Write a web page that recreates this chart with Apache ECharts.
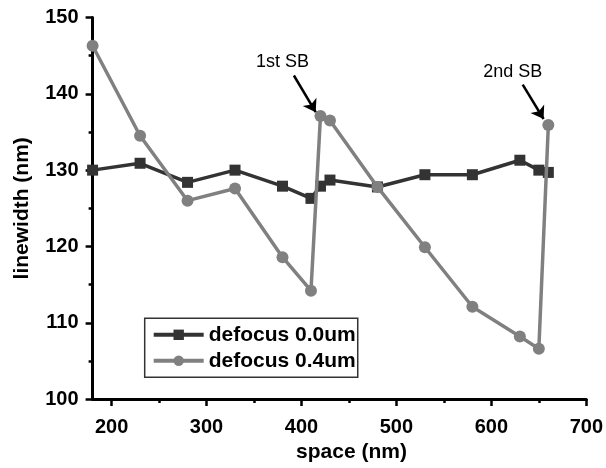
<!DOCTYPE html>
<html>
<head>
<meta charset="utf-8">
<script src="https://cdn.jsdelivr.net/npm/echarts@6/dist/echarts.min.js"></script>
<style>html,body{margin:0;padding:0;background:#fff;}#c{width:606px;height:468px;}</style>
</head>
<body>
<div id="c"></div>
<script>
const spaceNm = [180, 230, 280, 330, 380, 410, 420, 430, 480, 530, 580, 630, 650, 660];
const defocus00 = [130.0, 130.9, 128.4, 130.0, 127.9, 126.3, 127.9, 128.7, 127.8, 129.4, 129.4, 131.3, 130.0, 129.7];
const defocus04 = [146.3, 134.5, 126.0, 127.6, 118.6, 114.2, 137.1, 136.5, 127.8, 119.9, 112.1, 108.2, 106.6, 135.9];
const seriesNames = ['defocus 0.0um', 'defocus 0.4um'];
const xMajorTicks = [200, 300, 400, 500, 600, 700];
const xMinorTicks = [250, 350, 450, 550, 650];
const annotations = [
  { text: '1st SB', label: [380, 144.1], from: [392, 142.4], to: [415, 137.6] },
  { text: '2nd SB', label: [622.5, 142.9], from: [633, 141.2], to: [655, 136.7] }
];

const font = 'Liberation Sans, Arial, sans-serif';
const chart = echarts.init(document.getElementById('c'), null, { renderer: 'canvas' });

const pair = (xs, ys) => xs.map((x, i) => [x, ys[i]]);

chart.setOption({
  animation: false,
  backgroundColor: '#fff',
  grid: { left: 92.6, right: 17, top: 17.5, bottom: 67.3, containLabel: false },
  legend: {
    orient: 'vertical',
    left: 144.7,
    top: 318.3,
    data: seriesNames,
    itemWidth: 50,
    itemHeight: 13,
    itemGap: 5,
    padding: [6, 2, 6, 7],
    borderColor: '#333',
    borderWidth: 1.5,
    lineStyle: { width: 4 },
    textStyle: { fontFamily: font, fontSize: 21, fontWeight: 'bold', color: '#000' }
  },
  xAxis: [
    {
      type: 'value', min: 180, max: 700,
      name: 'space (nm)', nameLocation: 'middle', nameGap: 36,
      nameTextStyle: { fontFamily: font, fontSize: 21, fontWeight: 'bold', color: '#000', padding: [0, 0, 0, 24] },
      axisLine: { show: true, lineStyle: { color: '#000', width: 3 } },
      axisTick: { show: true, inside: false, length: 7, customValues: xMajorTicks, lineStyle: { color: '#000', width: 2.5 } },
      axisLabel: { show: true, margin: 18, customValues: xMajorTicks, fontFamily: font, fontSize: 20, fontWeight: 'bold', color: '#000' },
      splitLine: { show: false }
    },
    {
      type: 'value', min: 180, max: 700, position: 'bottom',
      axisLine: { show: false },
      axisTick: { show: true, inside: false, length: 4, customValues: xMinorTicks, lineStyle: { color: '#000', width: 2.5 } },
      axisLabel: { show: false },
      splitLine: { show: false }
    }
  ],
  yAxis: {
    type: 'value', min: 100, max: 150, interval: 10,
    name: 'linewidth (nm)', nameLocation: 'middle', nameGap: 60,
    nameTextStyle: { fontFamily: font, fontSize: 21, fontWeight: 'bold', color: '#000' },
    axisLine: { show: true, lineStyle: { color: '#000', width: 3 } },
    axisTick: { show: true, inside: false, length: 7, lineStyle: { color: '#000', width: 2.5 } },
    minorTick: { show: true, splitNumber: 2, length: 4, lineStyle: { color: '#000', width: 2.5 } },
    axisLabel: { margin: 14, fontFamily: font, fontSize: 20, fontWeight: 'bold', color: '#000' },
    splitLine: { show: false }
  },
  series: [
    {
      name: seriesNames[0], type: 'line', xAxisIndex: 0,
      data: pair(spaceNm, defocus00),
      symbol: 'rect', symbolSize: 11,
      lineStyle: { color: '#333', width: 3.5 },
      itemStyle: { color: '#333' },
      z: 2
    },
    {
      name: seriesNames[1], type: 'line', xAxisIndex: 0,
      data: pair(spaceNm, defocus04),
      symbol: 'circle', symbolSize: 12,
      lineStyle: { color: '#808080', width: 3.5 },
      itemStyle: { color: '#808080' },
      z: 3,
      markPoint: {
        silent: true,
        symbol: 'circle', symbolSize: 1,
        itemStyle: { color: 'rgba(0,0,0,0)' },
        label: { show: true, position: 'inside', color: '#000', fontFamily: font, fontSize: 18, formatter: p => p.name },
        data: annotations.map(a => ({ name: a.text, coord: a.label }))
      },
      markLine: {
        silent: true,
        symbol: ['none', 'arrow'],
        symbolSize: 12,
        label: { show: false },
        lineStyle: { color: '#000', width: 2.5, type: 'solid' },
        emphasis: { disabled: true },
        data: annotations.map(a => [{ coord: a.from }, { coord: a.to }])
      }
    }
  ]
});
</script>
</body>
</html>
